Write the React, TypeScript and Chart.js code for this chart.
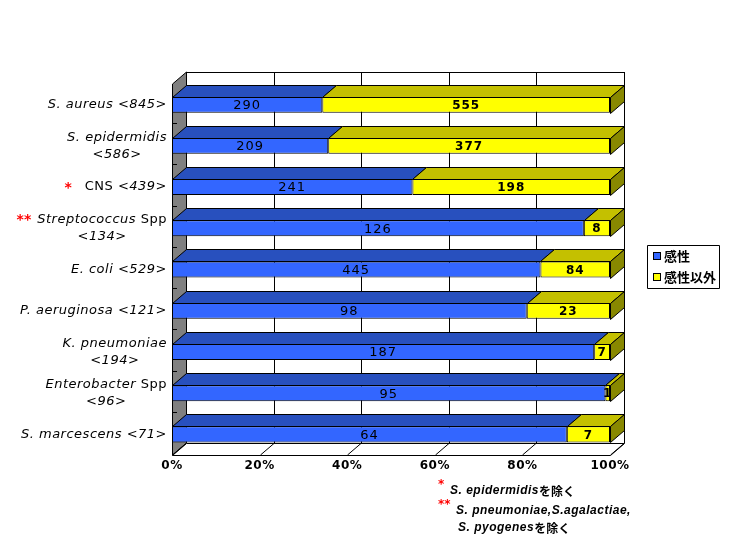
import { useEffect, useRef } from "react";
import { Chart, registerables } from "chart.js";

Chart.register(...registerables);

// 菌種ごとの感性 / 感性以外 の株数
const organisms = [
  "S. aureus",
  "S. epidermidis",
  "CNS",
  "Streptococcus",
  "E. coli",
  "P. aeruginosa",
  "K. pneumoniae",
  "Enterobacter",
  "S. marcescens",
];
const italicName = [true, true, false, true, true, true, true, true, true];
const suffixes = ["", "", "", "Spp", "", "", "", "Spp", ""];
const marks = ["", "", "*", "**", "", "", "", "", ""];
const wrapped = [false, true, false, true, false, false, true, true, false];
const totals = [845, 586, 439, 134, 529, 121, 194, 96, 71];
const susceptible = [290, 209, 241, 126, 445, 98, 187, 95, 64];
const nonSusceptible = [555, 377, 198, 8, 84, 23, 7, 1, 7];
const seriesNames = ["感性", "感性以外"];
const xTicks = [0, 20, 40, 60, 80, 100];

const noteMarks = ["*", "**", ""];
const noteLatin = ["S. epidermidis", "S. pneumoniae,S.agalactiae,", "S. pyogenes"];
const noteJa = ["を除く", "", "を除く"];

const frontColors = ["#3366FF", "#FFFF00"];
const topColors = ["#2850BE", "#C4C000"];
const sideColors = ["#1E3C90", "#888800"];
const DX = 14;
const DY = -12;

const pct = (a: number[], i: number) => (a[i] / totals[i]) * 100;

function poly(ctx: CanvasRenderingContext2D, pts: number[][], fill: string) {
  ctx.beginPath();
  ctx.moveTo(pts[0][0], pts[0][1]);
  for (let k = 1; k < pts.length; k++) ctx.lineTo(pts[k][0], pts[k][1]);
  ctx.closePath();
  ctx.fillStyle = fill;
  ctx.fill();
  ctx.strokeStyle = "#000";
  ctx.lineWidth = 1;
  ctx.stroke();
}

function line(ctx: CanvasRenderingContext2D, x1: number, y1: number, x2: number, y2: number) {
  ctx.beginPath();
  ctx.moveTo(x1, y1);
  ctx.lineTo(x2, y2);
  ctx.strokeStyle = "#000";
  ctx.lineWidth = 1;
  ctx.stroke();
}

type Seg = { text: string; italic: boolean; color?: string };
const LABEL_FONT = "13px 'DejaVu Sans'";

function setFont(ctx: CanvasRenderingContext2D, s: Seg) {
  ctx.font = (s.italic ? "oblique " : "") + LABEL_FONT;
  ctx.letterSpacing = "0.5px";
}

function segWidth(ctx: CanvasRenderingContext2D, segs: Seg[]) {
  let w = 0;
  for (const s of segs) {
    setFont(ctx, s);
    w += ctx.measureText(s.text).width;
  }
  return w;
}

function drawSegs(ctx: CanvasRenderingContext2D, segs: Seg[], x: number, y: number) {
  ctx.textAlign = "left";
  ctx.textBaseline = "middle";
  for (const s of segs) {
    setFont(ctx, s);
    ctx.fillStyle = s.color || "#000";
    ctx.fillText(s.text, x, y);
    x += ctx.measureText(s.text).width;
  }
}

const box3d = {
  id: "box3d",
  beforeDatasetsDraw(chart: any) {
    const ctx: CanvasRenderingContext2D = chart.ctx;
    const { left, right, top, bottom } = chart.chartArea;
    const xs = chart.scales.x;
    ctx.save();
    // back wall
    ctx.fillStyle = "#fff";
    ctx.fillRect(left + DX, top + DY, right - left, bottom - top);
    line(ctx, left + DX, top + DY + 0.5, right + DX, top + DY + 0.5);
    line(ctx, right + DX + 0.5, top + DY, right + DX + 0.5, bottom + DY);
    for (const v of xTicks.slice(1, -1)) {
      const x = Math.round(xs.getPixelForValue(v) + DX) + 0.5;
      line(ctx, x, top + DY, x, bottom + DY);
    }
    // left wall
    poly(
      ctx,
      [
        [left + 0.5, top],
        [left + DX + 0.5, top + DY],
        [left + DX + 0.5, bottom + DY],
        [left + 0.5, bottom],
      ],
      "#808080"
    );
    const band = (bottom - top) / organisms.length;
    for (let i = 1; i < organisms.length; i++) {
      const yb = Math.round(top + band * i) - 1.5;
      line(ctx, left, yb, left + 5, yb);
    }
    // floor
    poly(
      ctx,
      [
        [left + 0.5, bottom + 0.5],
        [left + DX + 0.5, bottom + DY + 0.5],
        [right + DX + 0.5, bottom + DY + 0.5],
        [right + 0.5, bottom + 0.5],
      ],
      "#fff"
    );
    for (const v of xTicks) {
      const x = Math.round(xs.getPixelForValue(v)) + 0.5;
      line(ctx, x, bottom, x + DX, bottom + DY);
    }
    ctx.restore();
  },
  afterDatasetsDraw(chart: any) {
    const ctx: CanvasRenderingContext2D = chart.ctx;
    const n = chart.data.datasets.length;
    ctx.save();
    for (let d = 0; d < n; d++) {
      const meta = chart.getDatasetMeta(d);
      meta.data.forEach((bar: any) => {
        const { x, y, base, height } = bar.getProps(["x", "y", "base", "height"], true);
        const yt = Math.round(y - height / 2) + 0.5;
        const yb = Math.round(y + height / 2) + 0.5;
        const xl = Math.round(base) + 0.5;
        const xr = Math.round(x) + 0.5;
        poly(ctx, [[xl, yt], [xl + DX, yt + DY], [xr + DX, yt + DY], [xr, yt]], topColors[d]);
        if (d === n - 1) {
          poly(ctx, [[xr, yt], [xr + DX, yt + DY], [xr + DX, yb + DY], [xr, yb]], sideColors[d]);
        }
      });
    }
    // counts on the front faces
    const counts = [susceptible, nonSusceptible];
    for (let d = 0; d < n; d++) {
      const meta = chart.getDatasetMeta(d);
      meta.data.forEach((bar: any, i: number) => {
        const { x, y, base } = bar.getProps(["x", "y", "base"], true);
        ctx.font = d === 0 ? "13px 'DejaVu Sans'" : "bold 12px 'DejaVu Sans'";
        ctx.letterSpacing = "1px";
        ctx.fillStyle = "#000";
        ctx.textAlign = "center";
        ctx.textBaseline = "middle";
        ctx.fillText(String(counts[d][i]), (x + base) / 2, y + 1);
      });
    }
    ctx.restore();
  },
  afterDraw(chart: any) {
    const ctx: CanvasRenderingContext2D = chart.ctx;
    const { bottom } = chart.chartArea;
    const xs = chart.scales.x;
    const ys = chart.scales.y;
    ctx.save();

    // x tick labels
    ctx.font = "bold 12px 'DejaVu Sans'";
    ctx.letterSpacing = "0.5px";
    ctx.fillStyle = "#000";
    ctx.textAlign = "center";
    ctx.textBaseline = "middle";
    for (const v of xTicks) ctx.fillText(v + "%", xs.getPixelForValue(v), bottom + 11);

    // category labels
    const R = 167;
    organisms.forEach((name, i) => {
      const y = ys.getPixelForValue(i);
      const count: Seg = { text: `<${totals[i]}>`, italic: true };
      const l1: Seg[] = [{ text: name, italic: italicName[i] }];
      if (suffixes[i]) l1.push({ text: " " + suffixes[i], italic: false });
      if (!wrapped[i]) l1.push({ text: " " + count.text, italic: true });
      const w1 = segWidth(ctx, l1);
      const x1 = R - w1;
      const y1 = wrapped[i] ? y - 8.5 : y;
      drawSegs(ctx, l1, x1, y1);
      if (wrapped[i]) {
        const w2 = segWidth(ctx, [count]);
        drawSegs(ctx, [count], R - w1 / 2 - w2 / 2, y + 8.5);
      }
      if (marks[i]) {
        ctx.font = "bold 14px 'DejaVu Sans'";
        ctx.letterSpacing = "0px";
        ctx.fillStyle = "#FF0000";
        ctx.textAlign = "right";
        ctx.textBaseline = "middle";
        ctx.fillText(marks[i], x1 - (wrapped[i] ? 6 : 13), y1 + 1);
      }
    });

    // legend
    ctx.fillStyle = "#fff";
    ctx.fillRect(647, 245, 72, 43);
    line(ctx, 647.5, 245.5, 719.5, 245.5);
    line(ctx, 719.5, 245.5, 719.5, 288.5);
    line(ctx, 719.5, 288.5, 647.5, 288.5);
    line(ctx, 647.5, 288.5, 647.5, 245.5);
    seriesNames.forEach((s, d) => {
      const cy = 256 + d * 21;
      ctx.fillStyle = frontColors[d];
      ctx.fillRect(653.5, cy - 3.5, 7, 7);
      ctx.strokeStyle = "#000";
      ctx.strokeRect(653.5, cy - 3.5, 7, 7);
      ctx.font = "bold 13px 'Noto Sans CJK JP'";
      ctx.letterSpacing = "0px";
      ctx.fillStyle = "#000";
      ctx.textAlign = "left";
      ctx.textBaseline = "middle";
      ctx.fillText(s, 664, cy);
    });

    // footnotes
    const noteY = [491, 511, 528];
    const noteX = [450, 456, 458];
    noteLatin.forEach((t, k) => {
      if (noteMarks[k]) {
        ctx.font = "bold 12px 'DejaVu Sans'";
        ctx.letterSpacing = "0px";
        ctx.fillStyle = "#FF0000";
        ctx.textAlign = "left";
        ctx.textBaseline = "middle";
        ctx.fillText(noteMarks[k], 438, noteY[k] - 6);
      }
      ctx.font = "bold italic 12px 'Liberation Sans'";
      ctx.letterSpacing = "0.5px";
      ctx.fillStyle = "#000";
      ctx.textAlign = "left";
      ctx.textBaseline = "middle";
      ctx.fillText(t, noteX[k], noteY[k]);
      const w = ctx.measureText(t).width;
      if (noteJa[k]) {
        ctx.font = "bold 12px 'Noto Sans CJK JP'";
        ctx.letterSpacing = "0px";
        ctx.fillText(noteJa[k], noteX[k] + w, noteY[k]);
      }
    });
    ctx.restore();
  },
};

export default function App() {
  const canvasRef = useRef<HTMLCanvasElement | null>(null);

  useEffect(() => {
    if (!canvasRef.current) return;
    const chart = new Chart(canvasRef.current, {
      type: "bar",
      data: {
        labels: organisms,
        datasets: [susceptible, nonSusceptible].map((arr, d) => ({
          label: seriesNames[d],
          data: arr.map((_, i) => pct(arr, i)),
          backgroundColor: frontColors[d],
          borderColor: "#000",
          borderWidth: 1,
          borderSkipped: false,
          categoryPercentage: 1,
          barPercentage: 0.39,
        })),
      },
      options: {
        indexAxis: "y",
        animation: false,
        responsive: true,
        maintainAspectRatio: false,
        layout: { padding: { left: 172, right: 120, top: 84, bottom: 96 } },
        scales: {
          x: { display: false, stacked: true, min: 0, max: 100 },
          y: { display: false, stacked: true },
        },
        plugins: {
          legend: { display: false },
          tooltip: { enabled: false },
        },
      } as any,
      plugins: [box3d],
    });
    return () => chart.destroy();
  }, []);

  return (
    <div style={{ position: "absolute", left: 0, top: 0, width: 730, height: 551, background: "#fff" }}>
      <canvas ref={canvasRef} />
    </div>
  );
}
